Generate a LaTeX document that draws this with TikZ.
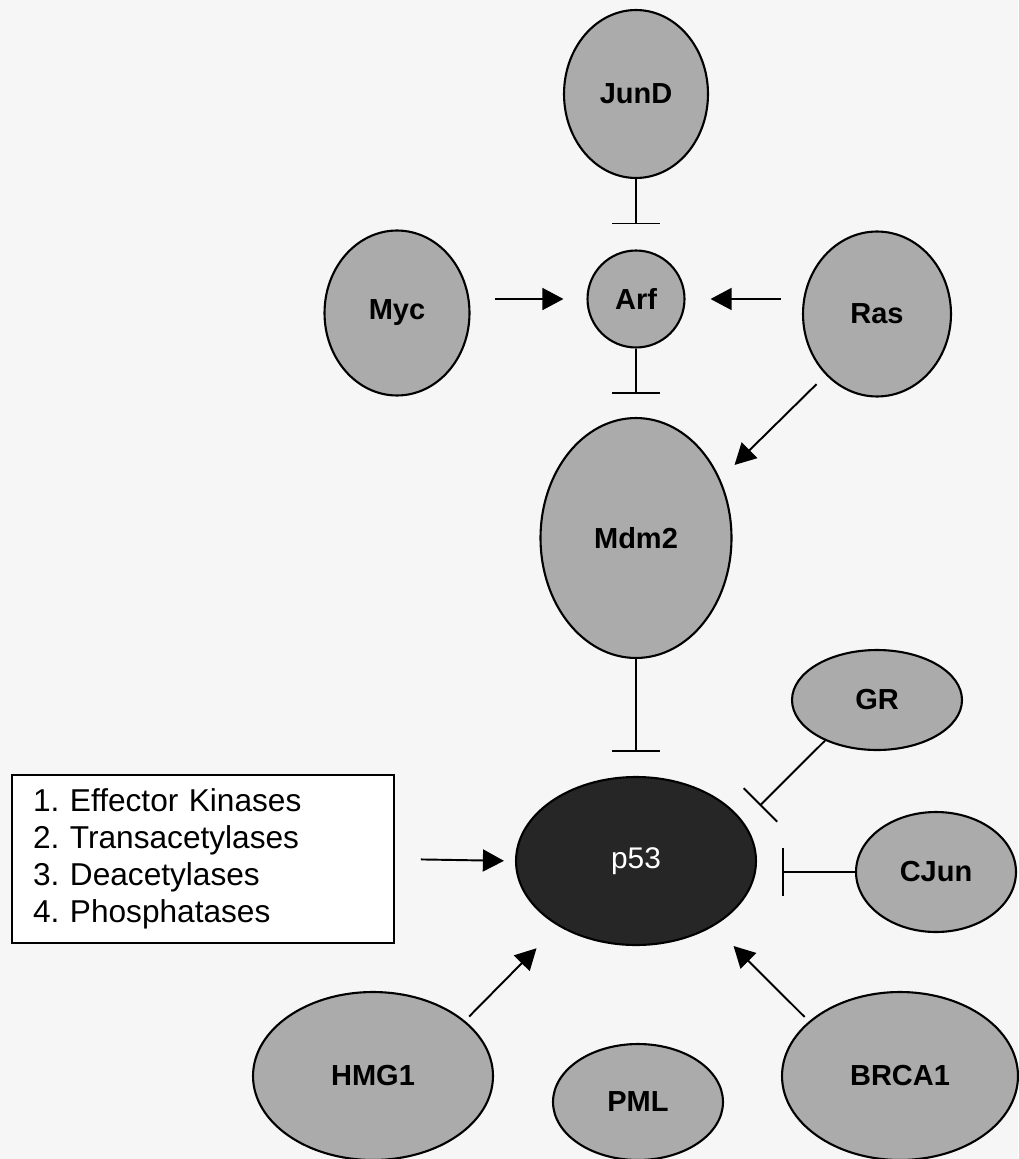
\documentclass[tikz,border=0pt]{standalone}
\usepackage{fontspec}
\setmainfont{Liberation Sans}
\usetikzlibrary{shapes.geometric,arrows.meta}
\definecolor{paper}{HTML}{F6F6F6}
\begin{document}
\begin{tikzpicture}[x=0.02cm,y=-0.02cm,
  prot/.style={ellipse, draw=black, line width=1.2pt, fill=black!33, inner sep=0pt,
    font=\fontsize{16.5}{18}\selectfont\bfseries},
  act/.style={line width=1.1pt, -{Triangle[length=12pt,width=12.5pt]}},
  inh/.style={line width=1.1pt, -{Bar[width=27pt]}}]
\fill[paper] (0,0) rectangle (1018,1159);
\useasboundingbox (0,0) rectangle (1018,1159);
% upstream of Mdm2
\node[prot, minimum width=2.88cm, minimum height=3.36cm] (jund) at (636,94) {JunD};
\node[prot, minimum width=2.9cm, minimum height=3.3cm] (myc) at (397,313) {Myc};
\node[prot, minimum width=1.94cm, minimum height=1.94cm] (arf) at (636,299) {Arf};
\node[prot, minimum width=2.96cm, minimum height=3.3cm] (ras) at (877,314) {Ras};
\node[prot, minimum width=3.82cm, minimum height=4.8cm] (mdm2) at (636,538) {Mdm2};
%
\node[prot, minimum width=4.8cm, minimum height=3.36cm, fill=black!85, text=white,
  font=\fontsize{17}{18}\selectfont] (p53) at (636,861) {p53};
\node[prot, minimum width=3.4cm, minimum height=2cm] (gr) at (877,700) {GR};
\node[prot, minimum width=3.2cm, minimum height=2.4cm] (cjun) at (936,872) {CJun};
\node[prot, minimum width=4.8cm, minimum height=3.36cm] (hmg1) at (373,1076) {HMG1};
\node[prot, minimum width=3.4cm, minimum height=2.32cm] (pml) at (638,1102) {PML};
\node[prot, minimum width=4.72cm, minimum height=3.36cm] (brca1) at (900,1076) {BRCA1};
\node[draw=black, line width=1.1pt, fill=white, minimum width=7.64cm, minimum height=3.36cm,
  inner xsep=0.42cm, text width=6.8cm, align=left,
  font=\fontsize{18}{21}\selectfont\frenchspacing] (enz) at (203,859)
  {1. Effector Kinases\\2. Transacetylases\\3. Deacetylases\\4. Phosphatases};
% connectors
\draw[inh, shorten >=0.5cm] (jund) -- (arf);
\draw[act, shorten <=0.48cm, shorten >=0.46cm] (myc.east |- arf.west) -- (arf.west);
\draw[act, shorten <=0.42cm, shorten >=0.5cm] (ras.west |- arf.east) -- (arf.east);
\draw[inh, shorten >=0.46cm] (arf) -- (mdm2);
\draw[act, shorten <=0.26cm, shorten >=0.4cm] (ras.230) -- (mdm2.35);
\draw[inh, shorten >=0.48cm] (mdm2) -- (p53);
\draw[inh, shorten >=0.46cm] (gr.218) -- (p53.20);
\draw[inh, shorten >=0.5cm] (cjun.west) -- (cjun.west -| p53.east);
\draw[act, shorten <=0.52cm, shorten >=0.22cm] (enz.east) -- (p53.west);
\draw[act, shorten <=0.12cm, shorten >=0.62cm] (hmg1.31) -- (p53.220);
\draw[act, shorten <=0.12cm, shorten >=0.56cm] (brca1.149) -- (p53.320);
\end{tikzpicture}
\end{document}
